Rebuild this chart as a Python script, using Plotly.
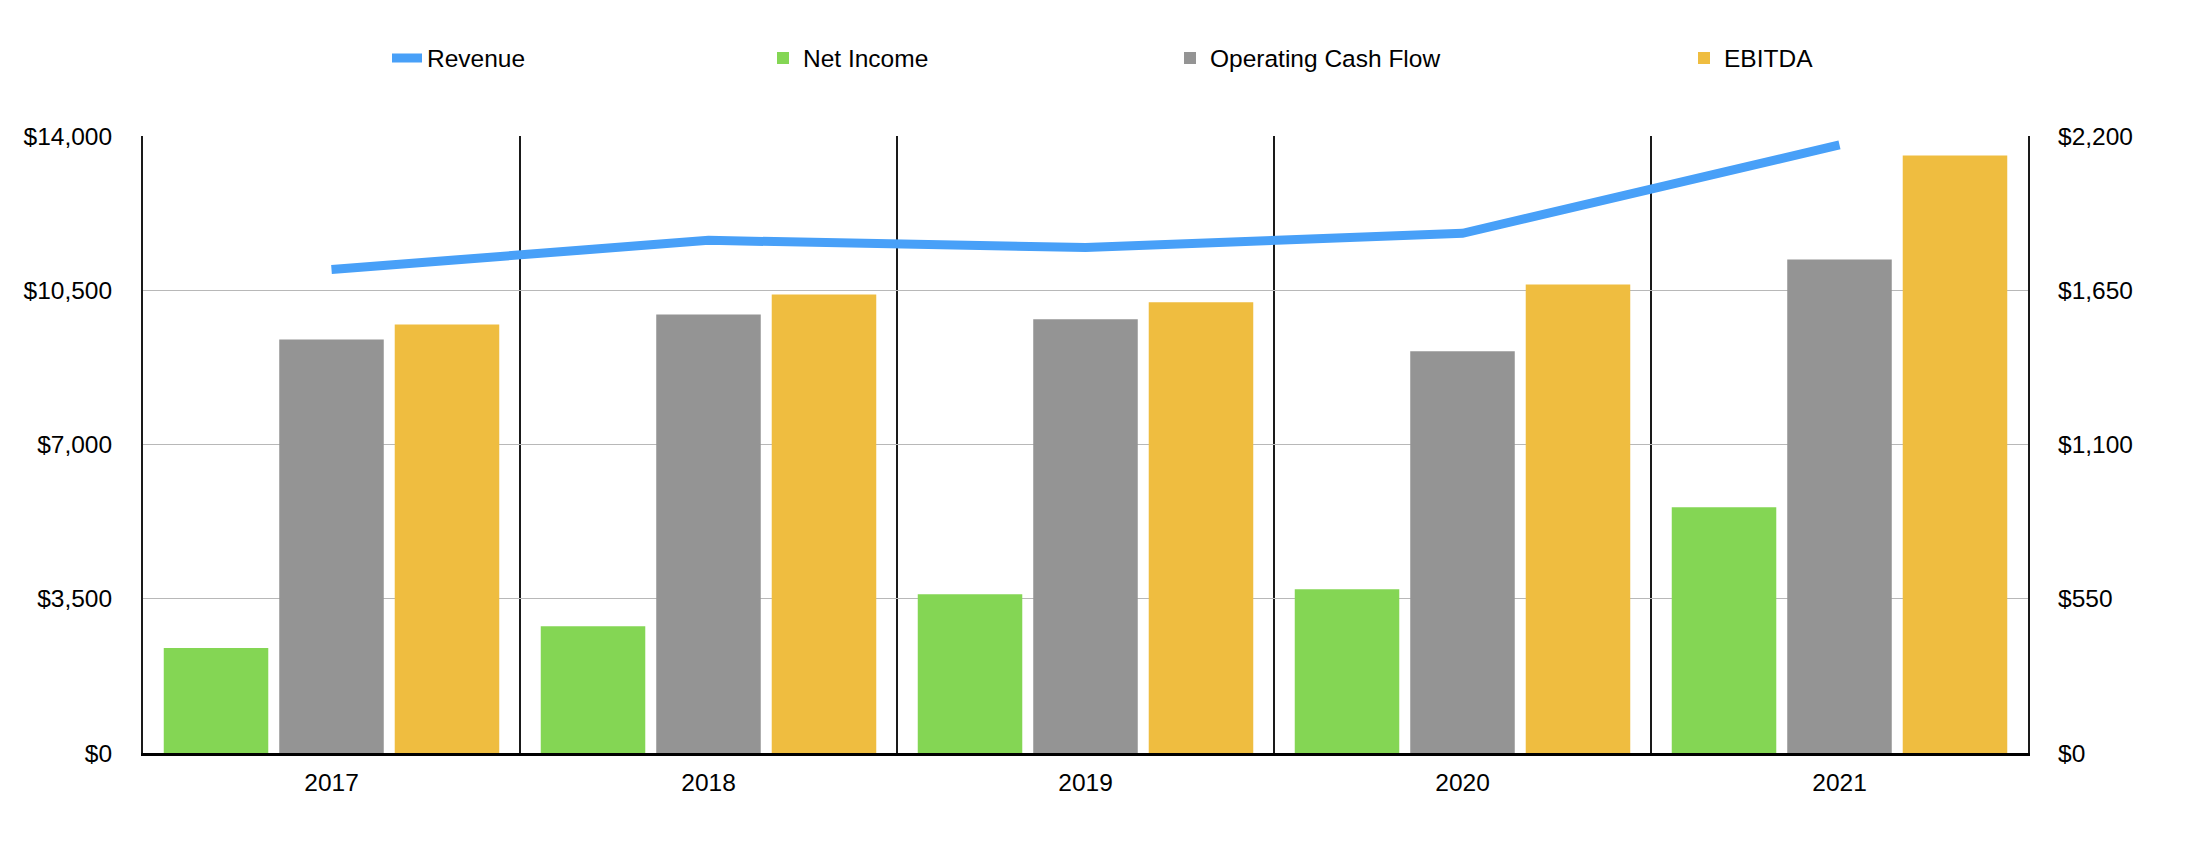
import plotly.graph_objects as go

# ------------------------------------------------------------
# data
# ------------------------------------------------------------
years = ["2017", "2018", "2019", "2020", "2021"]

revenue = [1724, 1828, 1802, 1853, 2168]          # right axis
net_income = [2380, 2875, 3600, 3715, 5575]       # left axis
op_cash_flow = [9385, 9950, 9840, 9115, 11200]
ebitda = [9725, 10405, 10225, 10630, 13560]

left_ticks = [0, 3500, 7000, 10500, 14000]
right_ticks = [0, 550, 1100, 1650, 2200]

# ------------------------------------------------------------
# colours / fonts
# ------------------------------------------------------------
C_REV = "#48a0f8"
C_NI = "#84d654"
C_OCF = "#949494"
C_EBITDA = "#efbd40"
FONT = "Liberation Sans"
FS = 24.5

W, H = 2186, 854

fig = go.Figure()

# bars
bar_series = [
    ("Net Income", net_income, C_NI, "legend2"),
    ("Operating Cash Flow", op_cash_flow, C_OCF, "legend3"),
    ("EBITDA", ebitda, C_EBITDA, "legend4"),
]
for name, vals, col, leg in bar_series:
    fig.add_trace(go.Bar(
        x=years,
        y=vals,
        name=name,
        marker=dict(color=col, line=dict(width=0)),
        legend=leg,
    ))

# revenue line on right axis
fig.add_trace(go.Scatter(
    x=years,
    y=revenue,
    name="Revenue",
    mode="lines",
    line=dict(color=C_REV, width=9),
    yaxis="y2",
    legend="legend",
))

# ------------------------------------------------------------
# legends: each item sits at its own spot along the top
# ------------------------------------------------------------
leg_text_x = {"legend": 428, "legend2": 804, "legend3": 1211, "legend4": 1725}
leg_common = dict(
    orientation="h",
    xref="container", yref="container",
    xanchor="left", yanchor="middle",
    y=1 - 50 / H,
    font=dict(family=FONT, size=FS, color="black"),
    bgcolor="rgba(0,0,0,0)",
)
legends = {}
for key, tx in leg_text_x.items():
    legends[key] = dict(leg_common, x=(tx - 49) / W)

fig.update_layout(
    width=W, height=H,
    margin=dict(l=135, r=166, t=128, b=109),
    paper_bgcolor="white",
    plot_bgcolor="white",
    font=dict(family=FONT, size=FS, color="black"),
    barmode="group",
    bargap=0.081,
    bargroupgap=0.095,
    showlegend=True,
    **legends,
)

fig.update_xaxes(
    type="category",
    tickson="boundaries",
    showgrid=True, gridcolor="#1a1a1a", gridwidth=2,
    showline=True, linecolor="black", linewidth=2.5,
    ticks="", ticklabelstandoff=6,
    tickfont=dict(family=FONT, size=FS, color="black"),
)

fig.update_layout(
    yaxis=dict(
        range=[0, 14000],
        tickmode="array", tickvals=left_ticks,
        ticktext=[f"${v:,}" for v in left_ticks],
        showgrid=True, gridcolor="#b8b8b8", gridwidth=1.3,
        zeroline=False,
        showline=True, mirror=True, linecolor="#1a1a1a", linewidth=2,
        ticks="", ticklabelstandoff=24,
        tickfont=dict(family=FONT, size=FS, color="black"),
    ),
    yaxis2=dict(
        range=[0, 2200],
        overlaying="y", side="right",
        tickmode="array", tickvals=right_ticks,
        ticktext=[f"${v:,}" for v in right_ticks],
        showgrid=False, zeroline=False,
        ticks="", ticklabelstandoff=29,
        tickfont=dict(family=FONT, size=FS, color="black"),
    ),
)

fig.write_html("out.html")
